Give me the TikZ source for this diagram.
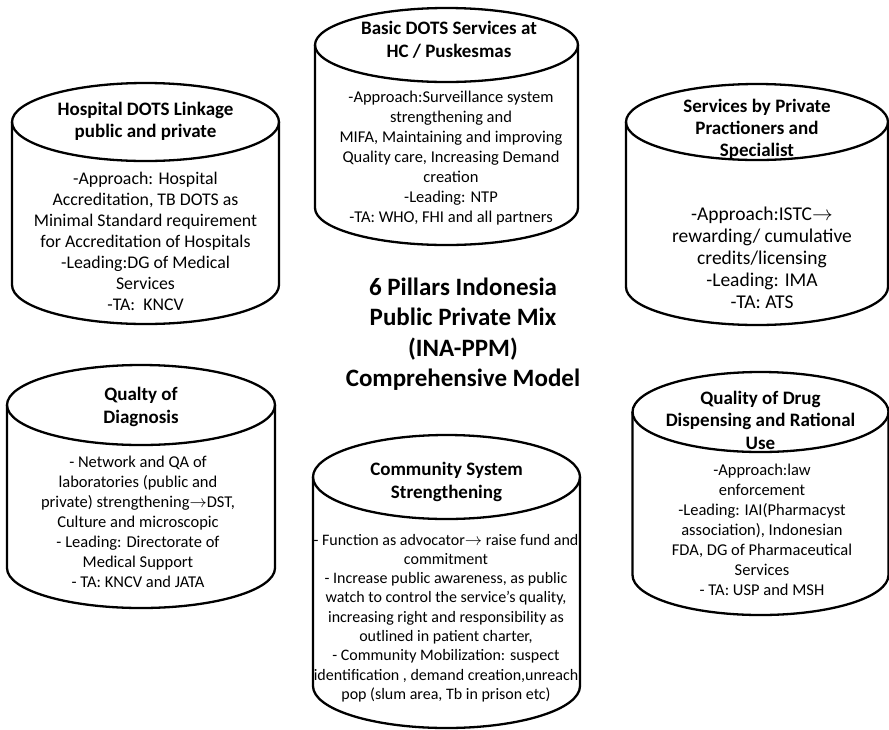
\documentclass[tikz,border=0pt]{standalone}
\usepackage{fontspec}
\setmainfont{Carlito}
\tikzset{
  pillar/.style={draw=black, line width=2.3pt, line join=round},
  head/.style={align=center, inner sep=0pt, font=\bfseries\fontsize{19}{22.5}\selectfont},
  bodytxt/.style={align=center, inner sep=0pt},
}
% cx, rx, yc (top centre), yb (bottom centre), ry
\newcommand\pillarshape[5]{%
  \draw[pillar] (#1-#2,#3) -- (#1-#2,#4) arc[start angle=180,end angle=360,x radius=#2pt,y radius=#5pt] -- (#1+#2,#3);
  \draw[pillar] (#1,#3) ellipse[x radius=#2pt, y radius=#5pt];
}
\begin{document}
\begin{tikzpicture}[x=1pt,y=-1pt]
\useasboundingbox (0,0) rectangle (889,729);
\fill[white] (0,0) rectangle (889,729);

% Pillar 1: Hospital DOTS Linkage
\pillarshape{145.5}{133.5}{122}{285}{39}
\node[head] (h1) at (145.5,121.5) {Hospital DOTS Linkage\\public and private};
\node[bodytxt, font=\fontsize{17.8}{21}\selectfont] (b1) at (145.5,241.5) {-Approach: Hospital\\Accreditation, TB DOTS as\\Minimal Standard requirement\\for Accreditation of Hospitals\\-Leading:DG of Medical\\Services\\-TA:\ \ KNCV};

% Pillar 2: Basic DOTS
\pillarshape{446.5}{131.5}{45}{208}{37}
\node[head] (h2) at (449,40) {Basic DOTS Services at\\HC / Puskesmas};
\node[bodytxt, font=\fontsize{16.5}{20}\selectfont] (b2) at (451,158) {-Approach:Surveillance system\\strengthening and\\MIFA, Maintaining and improving\\Quality care, Increasing Demand\\creation\\-Leading: NTP\\-TA: WHO, FHI and all partners};

% Pillar 3: Private Practioners
\pillarshape{757}{131}{122}{287}{38}
\node[head, font=\bfseries\fontsize{19}{22}\selectfont] (h3) at (757,129) {Services by Private\\Practioners and\\Specialist};
\node[bodytxt, font=\fontsize{19.5}{22}\selectfont] (b3) at (762,258) {-Approach:ISTC$\rightarrow$\\rewarding/ cumulative\\credits/licensing\\-Leading: IMA\\-TA: ATS};

% Pillar 4: Quality of Diagnosis
\pillarshape{141}{134}{405}{568}{40}
\node[head] (h4) at (141,407) {Qualty of\\Diagnosis};
\node[bodytxt, font=\fontsize{16.5}{20}\selectfont] (b4) at (138,522) {- Network and QA of\\laboratories (public and\\private) strengthening$\rightarrow$DST,\\Culture and microscopic\\- Leading: Directorate of\\Medical Support\\- TA: KNCV and JATA};

% Pillar 5: Community System Strengthening
\pillarshape{446.5}{133.5}{477}{686}{42}
\node[head] (h5) at (446.5,482) {Community System\\Strengthening};
\node[bodytxt, font=\fontsize{16}{19.3}\selectfont] (b5) at (446,618) {- Function as advocator$\rightarrow$ raise fund and\\commitment\\- Increase public awareness, as public\\watch to control the service’s quality,\\increasing right and responsibility as\\outlined in patient charter,\\- Community Mobilization: suspect\\identification , demand creation,unreach\\pop (slum area, Tb in prison etc)};

% Pillar 6: Drug Dispensing
\pillarshape{760.5}{128}{412}{575}{40}
\node[head] (h6) at (760.5,420) {Quality of Drug\\Dispensing and Rational\\Use};
\node[bodytxt, font=\fontsize{16.5}{20}\selectfont] (b6) at (762,530) {-Approach:law\\enforcement\\-Leading: IAI(Pharmacyst\\association), Indonesian\\FDA, DG of Pharmaceutical\\Services\\- TA: USP and MSH};

% Centre title
\node[align=center, inner sep=0pt, font=\bfseries\fontsize{25}{30.5}\selectfont] (title) at (463,334) {6 Pillars Indonesia\\Public Private Mix\\(INA-PPM)\\Comprehensive Model};
\end{tikzpicture}
\end{document}
